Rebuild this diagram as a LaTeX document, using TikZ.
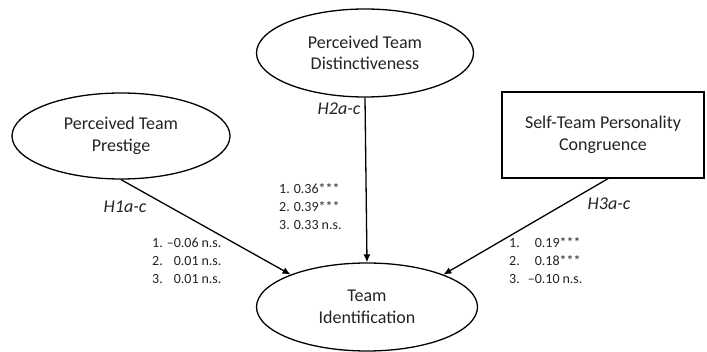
\documentclass[tikz,border=0pt]{standalone}
\usepackage{fontspec}
\setmainfont{Carlito}
\usetikzlibrary{shapes.geometric,arrows.meta}
\definecolor{txt}{RGB}{35,35,35}
\tikzset{
  every node/.style={text=txt},
  construct/.style={draw=black, line width=1.3pt, ellipse, inner sep=0pt, align=center,
    font=\fontsize{18}{21.5}\selectfont},
  boxc/.style={draw=black, line width=1.3pt, rectangle, inner sep=0pt, align=center,
    font=\fontsize{18}{21.5}\selectfont},
  hyp/.style={font=\fontsize{18}{21.5}\selectfont\itshape, inner sep=0pt},
  stats/.style={font=\fontsize{14}{17.6}\selectfont, inner sep=0pt, anchor=west},
  path/.style={draw=black, line width=1.3pt, -{Latex[length=8pt,width=7pt]}}
}
\begin{document}
\begin{tikzpicture}[x=1pt,y=-1pt]
\useasboundingbox (0,0) rectangle (707,352);
\node[construct, minimum width=218pt, minimum height=86pt] (pres) at (121,136) {Perceived Team\\Prestige};
\node[construct, minimum width=217pt, minimum height=88pt] (dist) at (365,53) {Perceived Team\\Distinctiveness};
\node[boxc, minimum width=202pt, minimum height=86pt] (cong) at (603,135) {Self-Team Personality\\Congruence};
\node[construct, minimum width=221pt, minimum height=88pt] (team) at (367,307) {Team\\Identification};

\draw[path] (pres.south) -- (team.157);
\draw[path] (dist.south) -- (team.north);
\draw[path] ([xshift=5pt]cong.south) -- (team.23);

\node[hyp] (h1) at (125,207) {H1a-c};
\node[hyp] (h2) at (339,109) {H2a-c};
\node[hyp] (h3) at (609,204) {H3a-c};

\node[stats] (s1) at (152,262) {\begin{tabular}{@{}l@{\hspace{4pt}}r@{\hspace{3pt}}l@{}}1.&–0.06&n.s.\\2.&0.01&n.s.\\3.&0.01&n.s.\end{tabular}};
\node[stats] (s2) at (279,208) {\begin{tabular}{@{}l@{\hspace{4pt}}r@{}l@{}}1.&0.36&***\\2.&0.39&***\\3.&0.33&\hspace{3pt}n.s.\end{tabular}};
\node[stats] (s3) at (509,262) {\begin{tabular}{@{}l@{\hspace{8pt}}r@{}l@{}}1.&0.19&***\\2.&0.18&***\\3.&–0.10&\hspace{3pt}n.s.\end{tabular}};
\end{tikzpicture}
\end{document}
